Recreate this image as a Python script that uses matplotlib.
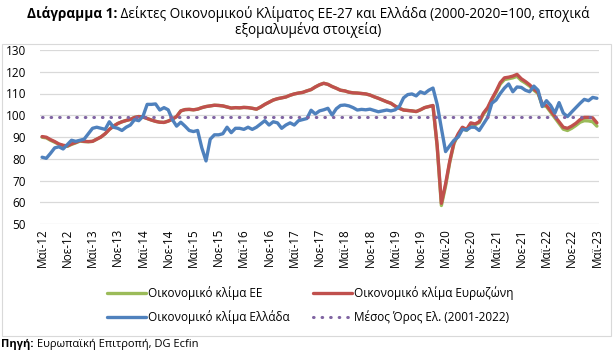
import matplotlib
matplotlib.use("Agg")
import matplotlib.pyplot as plt
from matplotlib.patches import Rectangle

plt.rcParams['font.family'] = ['Open Sans', 'DejaVu Sans']

# Monthly data, May 2012 .. May 2023 (133 months)
greece = [80.7, 80.2, 82.5, 85, 85.5, 84.5, 86.5, 88.5, 88, 88.5, 89, 91.5,
          94, 94.5, 94, 93.5, 97, 94.5, 94, 93, 94.5, 95.5, 98, 97.5,
          99.5, 105, 105, 105.2, 102.4, 103.5, 102.5, 98, 95, 96.8, 95, 93,
          92.5, 93, 85, 79, 89, 91, 91, 91.5, 94.5, 92, 94, 94,
          93.5, 94.5, 93.5, 94.5, 96, 97.5, 95.5, 97, 96.5, 94, 95.5, 96.5,
          95.5, 97.5, 98, 98.5, 102.3, 100.6, 102, 102.5, 103.2, 100.1, 103, 104.5,
          104.7, 104.3, 103.5, 102.4, 102.7, 102.5, 102.8, 102.2, 101.6, 102, 102.4, 102,
          102.5, 104, 108, 109.5, 109.8, 108.9, 110.8, 110, 111.5, 112.5, 105, 94,
          83.3, 86, 88.5, 90, 93.5, 93.2, 94.5, 94.5, 93, 96, 99, 105.5,
          107, 110, 112.5, 114.4, 110.8, 113, 112.8, 111.5, 110.8, 113.4, 111.5, 104,
          106.7, 104.5, 101, 105.8, 101, 99.4, 101.5, 103.5, 105.5, 107.3, 106.7, 108.2,
          107.8]

eurozone = [90.2, 89.9, 88.8, 87.9, 86.8, 86.2, 85.9, 86.8, 87.5, 88.3, 88, 87.9,
            88, 89, 90, 91.5, 93.5, 95, 96.2, 97, 97.6, 98.1, 99, 99.4,
            99.2, 98.5, 97.8, 97.2, 96.8, 96.7, 97.3, 98.2, 99.4, 102, 102.6, 102.7,
            102.5, 102.8, 103.5, 104, 104.3, 104.6, 104.5, 104.3, 103.8, 103.3, 103.5, 103.4,
            103.6, 103.5, 103.2, 102.8, 103.8, 105, 106, 107, 107.6, 108, 108.4, 109.2,
            109.8, 110.2, 110.5, 111.2, 111.8, 113, 114, 114.7, 114.2, 113.2, 112.4, 111.5,
            111.2, 110.6, 110.3, 110.2, 110, 109.8, 109.3, 108.5, 107.8, 107, 106.2, 105.5,
            104.2, 103.2, 102.4, 102.2, 102, 101.7, 102.5, 103.5, 104, 104.5, 86, 59.5,
            68.5, 79, 87.5, 91.5, 94.5, 93.5, 96.5, 96, 97, 101, 103.5, 107.5,
            111, 115, 117.2, 117.5, 118, 118.8, 116.8, 115.5, 114, 112, 110.5, 105,
            104.5, 102, 99.5, 97, 94.5, 94, 95, 96.3, 98, 99, 99, 98.8,
            96.5]

eu = [89.9, 89.6, 88.5, 87.6, 86.6, 86.0, 85.7, 86.6, 87.3, 88.1, 87.9, 87.8,
      88, 89, 90, 91.5, 93.5, 95, 96.2, 97, 97.6, 98.1, 99, 99.4,
      99.2, 98.5, 97.8, 97.2, 96.8, 96.7, 97.3, 98.2, 99.4, 102, 102.6, 102.7,
      102.5, 102.8, 103.5, 104, 104.3, 104.6, 104.5, 104.3, 103.8, 103.3, 103.5, 103.4,
      103.6, 103.5, 103.2, 102.8, 103.8, 105, 106, 107, 107.6, 108, 108.4, 109.2,
      109.8, 110.2, 110.5, 111.2, 111.8, 113, 114, 114.7, 114.2, 113.2, 112.4, 111.5,
      111.2, 110.6, 110.3, 110.2, 110, 109.8, 109.3, 108.5, 107.8, 107, 106.2, 105.5,
      104.2, 103.2, 102.4, 102.2, 102, 101.7, 102.5, 103.5, 104, 104.3, 85.5, 58.5,
      67.5, 78.5, 87, 91, 94, 93, 96, 95.6, 96.6, 100.5, 103, 107,
      110.5, 114.3, 116.4, 116.8, 117.2, 117.9, 116, 114.8, 113.4, 111.5, 110, 104.5,
      104, 101.4, 98.8, 96.2, 93.6, 93, 94, 95.3, 96.8, 97.5, 97.4, 97,
      95]

mean_greece = 99.2

tick_labels = ['Μαϊ-12', 'Νοε-12', 'Μαϊ-13', 'Νοε-13', 'Μαϊ-14', 'Νοε-14', 'Μαϊ-15', 'Νοε-15',
               'Μαϊ-16', 'Νοε-16', 'Μαϊ-17', 'Νοε-17', 'Μαϊ-18', 'Νοε-18', 'Μαϊ-19', 'Νοε-19',
               'Μαϊ-20', 'Νοε-20', 'Μαϊ-21', 'Νοε-21', 'Μαϊ-22', 'Νοε-22', 'Μαϊ-23']

label_eu = 'Οικονομικό κλίμα ΕΕ'
label_ez = 'Οικονομικό κλίμα Ευρωζώνη'
label_gr = 'Οικονομικό κλίμα Ελλάδα'
label_mn = 'Μέσος Όρος Ελ. (2001-2022)'

W, H = 616, 355
fig = plt.figure(figsize=(W / 100, H / 100), dpi=100)

# frame box
fig.patches.append(Rectangle((2 / W, 1 - 336 / H), 609 / W, 292 / H, transform=fig.transFigure,
                             fill=False, edgecolor='#d9d9d9', linewidth=0.8))

ax = fig.add_axes([40 / W, 1 - 224 / H, 559 / W, 174 / H])
x = list(range(len(greece)))
lw = 2.4
l_eu, = ax.plot(x, eu, color='#9bbb59', lw=lw, solid_capstyle='round', zorder=3)
l_ez, = ax.plot(x, eurozone, color='#c0504d', lw=lw, solid_capstyle='round', zorder=4)
l_gr, = ax.plot(x, greece, color='#4f81bd', lw=lw, solid_capstyle='round', zorder=5)
l_mn, = ax.plot(x, [mean_greece] * len(x), color='#8064a2', lw=2.2, linestyle=(0, (0.2, 2.6)),
                dash_capstyle='round', zorder=6)

ax.set_xlim(-0.5, len(x) - 0.5)
ax.set_ylim(50, 130)
ax.set_yticks(range(50, 131, 10))
ax.set_xticks(range(0, len(x), 6))
ax.set_xticklabels(tick_labels, rotation=90, fontsize=8.4)
ax.tick_params(axis='y', labelsize=8.5, length=0, pad=10)
ax.tick_params(axis='x', length=0, pad=3)
ax.grid(axis='y', color='#d9d9d9', lw=0.9)
ax.set_axisbelow(True)
for s in ax.spines.values():
    s.set_visible(False)

leg = fig.legend([l_eu, l_gr, l_ez, l_mn], [label_eu, label_gr, label_ez, label_mn], ncol=2,
                 loc='center', bbox_to_anchor=(310 / W, 1 - 305 / H), frameon=False, fontsize=8.5,
                 handlelength=3.3, handletextpad=0.15, columnspacing=2.0, labelspacing=0.85)

# Title with bold prefix
r = fig.canvas.get_renderer()
fs_t = 9.8
t1 = fig.text(0, 1 - 14 / H, 'Διάγραμμα 1:', fontsize=fs_t, fontweight='bold', va='center')
t2 = fig.text(0, 1 - 14 / H, ' Δείκτες Οικονομικού Κλίματος ΕΕ-27 και Ελλάδα (2000-2020=100, εποχικά',
              fontsize=fs_t, va='center')
w1 = t1.get_window_extent(r).width
w2 = t2.get_window_extent(r).width
start = (W - (w1 + w2)) / 2
t1.set_x(start / W)
t2.set_x((start + w1) / W)
fig.text(0.5, 1 - 30 / H, 'εξομαλυμένα στοιχεία)', fontsize=fs_t, ha='center', va='center')

# Source
s1 = fig.text(1 / W, 1 - 344 / H, 'Πηγή:', fontsize=8, fontweight='bold', va='center')
ws = s1.get_window_extent(r).width
fig.text((1 + ws) / W, 1 - 344 / H, ' Ευρωπαϊκή Επιτροπή, DG Ecfin', fontsize=8, va='center')

fig.savefig('out.png', dpi=100)
